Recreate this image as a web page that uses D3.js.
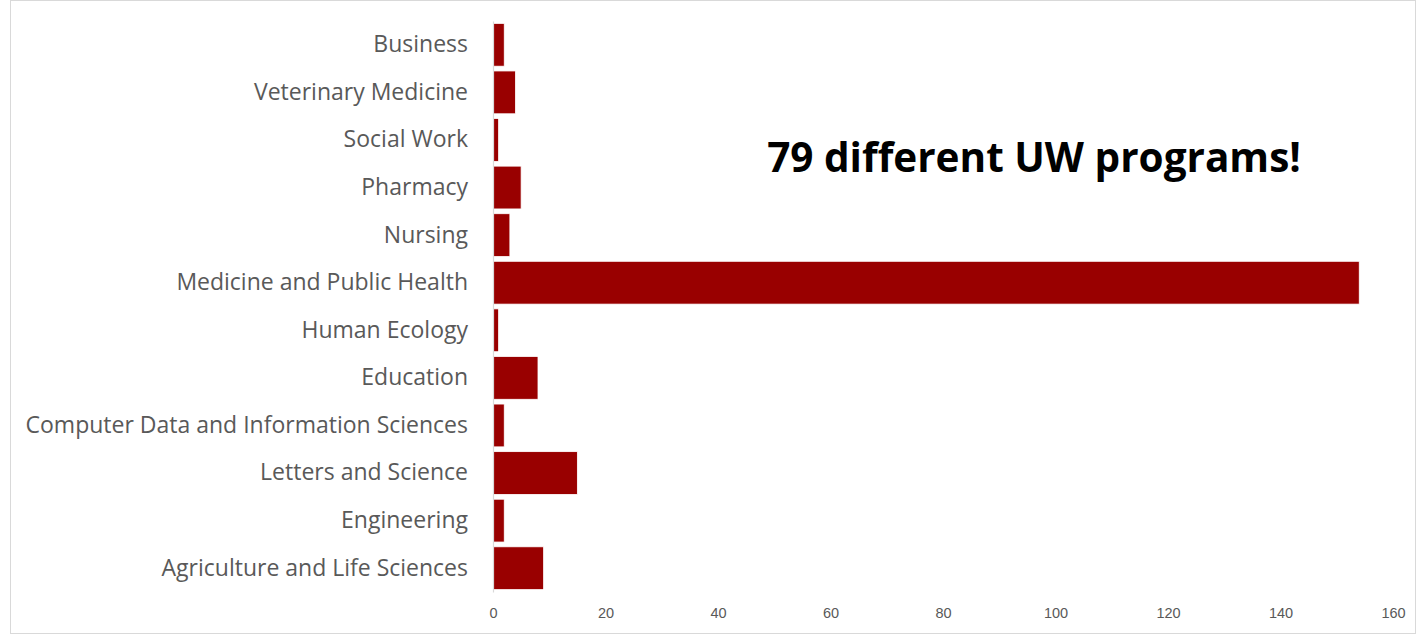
<!DOCTYPE html>
<html>
<head>
<meta charset="utf-8">
<script src="https://cdn.jsdelivr.net/npm/d3@7"></script>
<style>
  body { margin: 0; background: #fff; }
  svg { display: block; font-family: "Open Sans", "Noto Sans", sans-serif; }
</style>
</head>
<body>
<svg id="chart" width="1416" height="636"></svg>
<script>
// categories top to bottom, as in the picture
const programs = [
  "Business",
  "Veterinary Medicine",
  "Social Work",
  "Pharmacy",
  "Nursing",
  "Medicine and Public Health",
  "Human Ecology",
  "Education",
  "Computer Data and Information Sciences",
  "Letters and Science",
  "Engineering",
  "Agriculture and Life Sciences"
];
const counts = [2, 4, 1, 5, 3, 154, 1, 8, 2, 15, 2, 9];
const xTicks = [0, 20, 40, 60, 80, 100, 120, 140, 160];
const note = "79 different UW programs!";

const data = programs.map((p, i) => ({ name: p, n: counts[i] }));

const svg = d3.select("#chart");
const margin = { top: 21, right: 23, bottom: 44, left: 493 };
const width = +svg.attr("width") - margin.left - margin.right;
const height = +svg.attr("height") - margin.top - margin.bottom;

// outer frame
svg.append("rect")
  .attr("x", 10.5).attr("y", 0.5)
  .attr("width", 1405).attr("height", 633)
  .attr("fill", "none")
  .attr("stroke", "#d9d9d9");

const g = svg.append("g").attr("transform", `translate(${margin.left},${margin.top})`);

const x = d3.scaleLinear().domain([0, 160]).range([0, width]);
const y = d3.scaleBand().domain(programs).range([0, height]).paddingInner(0.1).paddingOuter(0.05);

g.selectAll("rect.bar")
  .data(data)
  .join("rect")
  .attr("class", "bar")
  .attr("x", x(0))
  .attr("y", d => y(d.name))
  .attr("width", d => x(d.n) - x(0))
  .attr("height", y.bandwidth())
  .attr("fill", "#990000")
  .attr("stroke", "#fff")
  .attr("stroke-width", 0.8);

// category axis
const yAxis = g.append("g")
  .call(d3.axisLeft(y).tickSize(0).tickPadding(25));
yAxis.select(".domain").attr("stroke", "#d9d9d9").attr("stroke-width", 1.2);
yAxis.selectAll("text")
  .attr("fill", "#595959")
  .style("font-size", "23px")
  .style("font-family", "'Open Sans', sans-serif");

// value axis (labels only)
const xAxis = g.append("g")
  .attr("transform", `translate(0,${height})`)
  .call(d3.axisBottom(x).tickValues(xTicks).tickSize(0).tickPadding(16));
xAxis.select(".domain").remove();
xAxis.selectAll("text")
  .attr("fill", "#595959")
  .style("font-size", "14.5px");

svg.append("text")
  .attr("x", 1034)
  .attr("y", 172)
  .attr("text-anchor", "middle")
  .attr("font-weight", "bold")
  .attr("font-size", 40.5)
  .attr("fill", "#000")
  .text(note);
</script>
</body>
</html>
